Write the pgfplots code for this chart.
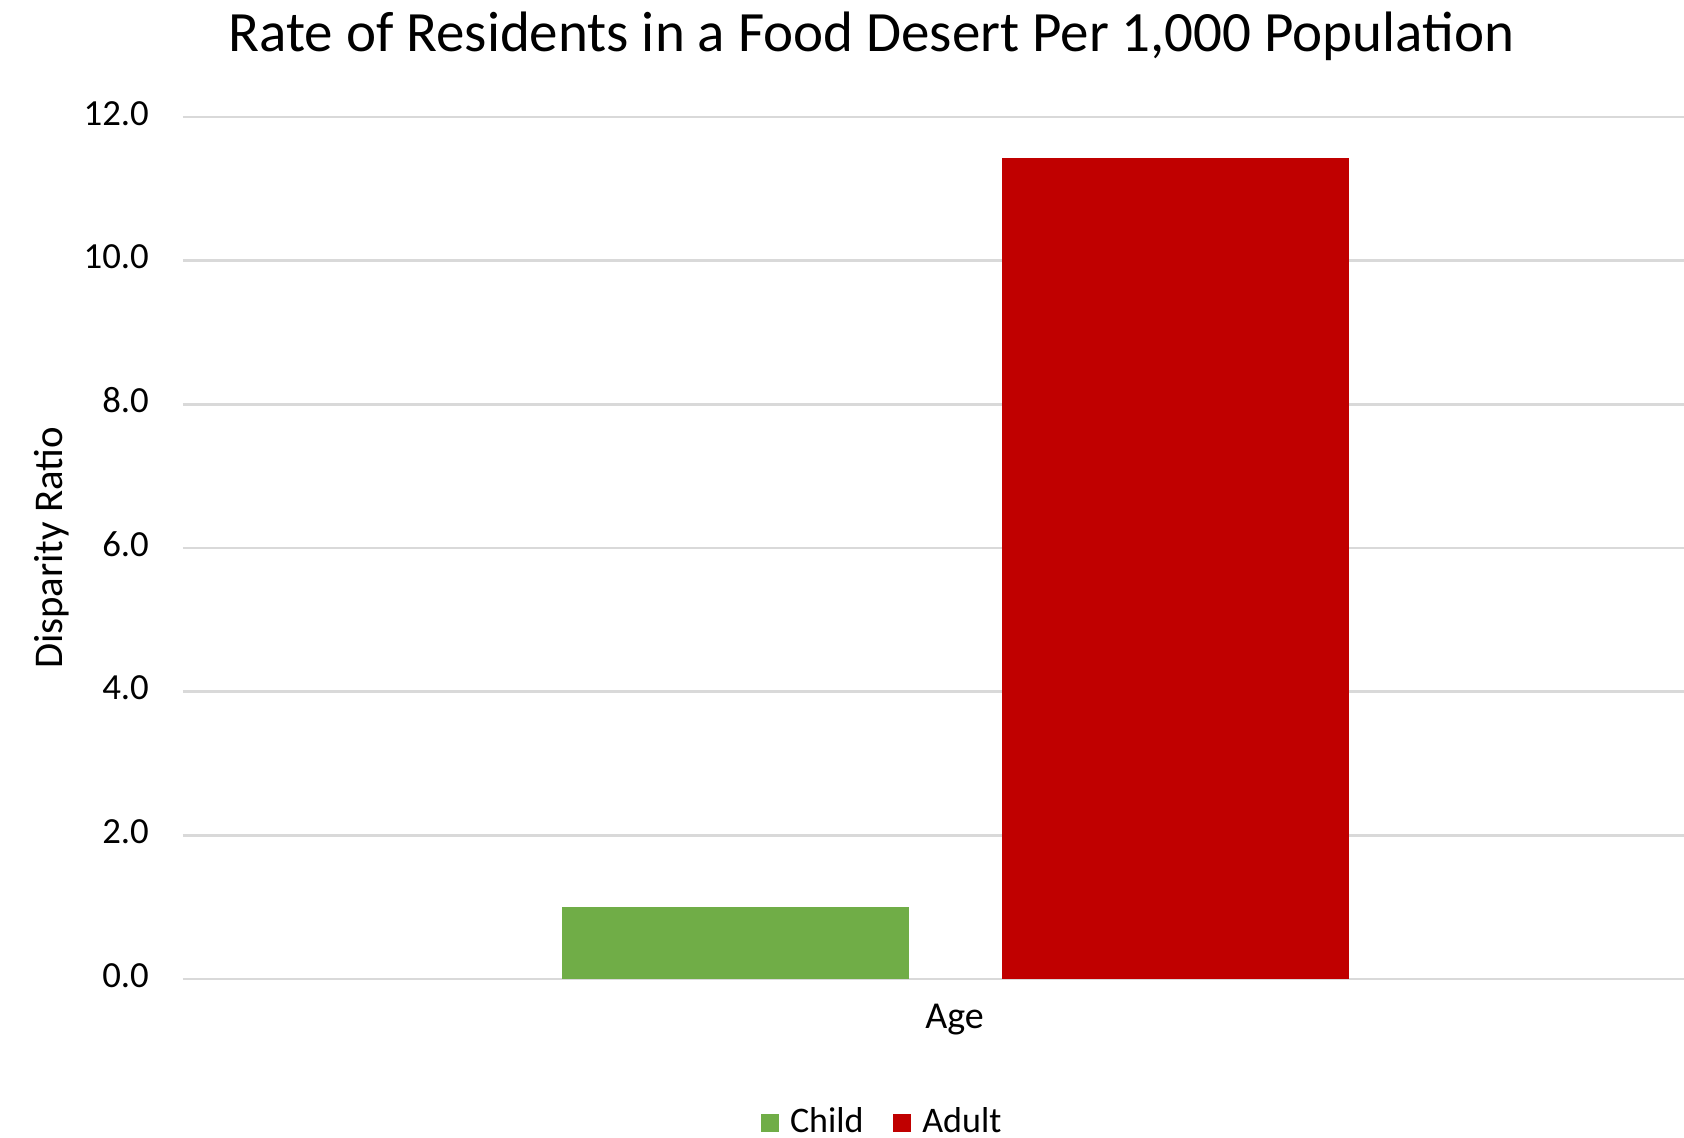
\documentclass[border=0pt]{standalone}
\usepackage{fontspec}
\setmainfont{Carlito}
\usepackage{pgfplots}
\pgfplotsset{compat=1.18}

\definecolor{childgreen}{RGB}{112,173,71}
\definecolor{adultred}{RGB}{192,0,0}
\definecolor{gridgray}{RGB}{217,217,217}

\begin{document}
\begin{tikzpicture}
\begin{scope}
\clip (0pt,0pt) rectangle (421pt,284.25pt);
\begin{axis}[
  at={(45.75pt,39.5pt)}, anchor=south west,
  scale only axis, width=385.75pt, height=215.5pt,
  xmin=-0.5, xmax=0.5, ymin=0, ymax=12,
  ytick={0,2,...,12},
  xtick={0}, xticklabels={Age},
  axis line style={draw=none},
  major tick length=0pt,
  ymajorgrids, grid style={gridgray, line width=0.6pt},
  tick label style={font=\fontsize{9.5}{11}\selectfont},
  yticklabel style={font=\fontsize{9.2}{11}\selectfont, anchor=base east, xshift=-5pt, yshift=-2pt,
    /pgf/number format/.cd, fixed, fixed zerofill, precision=1, assume math mode=true},
  xticklabel style={anchor=base, yshift=-12.25pt},
  ylabel={Disparity Ratio},
  every axis y label/.style={at={(rel axis cs:0,0.5)}, xshift=-30.25pt, rotate=90, anchor=base,
    font=\fontsize{10.2}{12}\selectfont},
  bar width=0.225,
  legend columns=2,
  legend style={at={(0.455,-0.167)}, anchor=center, draw=none, fill=none,
    font=\fontsize{9}{11}\selectfont,
    /tikz/every even column/.style={column sep=5.4pt}},
  % square swatch, with a little blank room before the entry text
  legend image code/.code={\fill[#1] (0pt,-2.25pt) rectangle (4.5pt,2.25pt);
    \path (5.3pt,0pt);},
]
\addplot[ybar, fill=childgreen, draw=none, bar shift=-0.142] coordinates {(0,1.0)};
\addlegendentry{Child}
\addplot[ybar, fill=adultred, draw=none, bar shift=0.143] coordinates {(0,11.43)};
\addlegendentry{Adult}
\end{axis}
\end{scope}
\node[anchor=base, font=\fontsize{14.25}{17}\selectfont] at (217.875pt,271.3pt)
  {Rate of Residents in a Food Desert Per 1,000 Population};
\pgfresetboundingbox
\path[use as bounding box] (0pt,0pt) rectangle (421pt,284.25pt);
\end{tikzpicture}
\end{document}
